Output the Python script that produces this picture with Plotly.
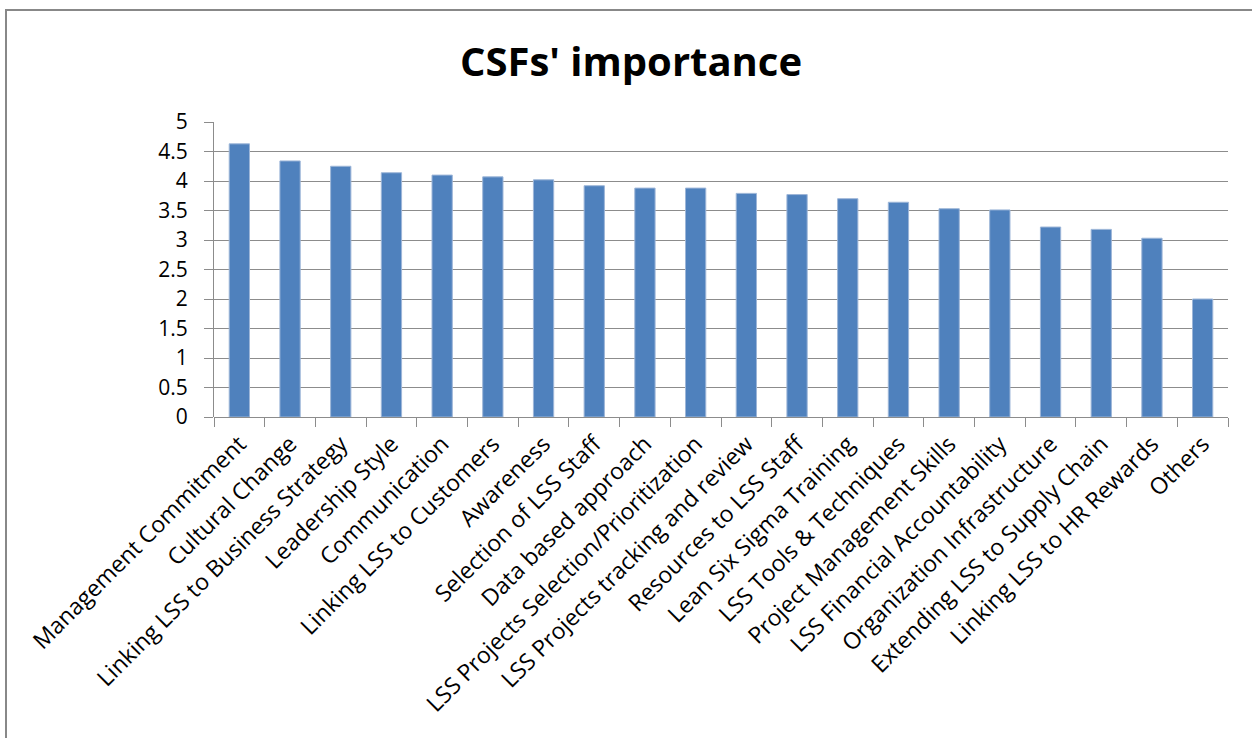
import plotly.graph_objects as go

categories = [
    "Management Commitment", "Cultural Change", "Linking LSS to Business Strategy",
    "Leadership Style", "Communication", "Linking LSS to Customers", "Awareness",
    "Selection of LSS Staff", "Data based approach", "LSS Projects Selection/Prioritization",
    "LSS Projects tracking and review", "Resources to LSS Staff", "Lean Six Sigma Training",
    "LSS Tools & Techniques", "Project Management Skills", "LSS Financial Accountability",
    "Organization Infrastructure", "Extending LSS to Supply Chain", "Linking LSS to HR Rewards",
    "Others",
]
values = [4.63, 4.34, 4.25, 4.14, 4.10, 4.07, 4.02, 3.92, 3.88, 3.88,
          3.79, 3.77, 3.70, 3.64, 3.53, 3.51, 3.22, 3.18, 3.03, 2.0]
y_ticks = [0, 0.5, 1, 1.5, 2, 2.5, 3, 3.5, 4, 4.5, 5]
y_tick_text = ["0", "0.5", "1", "1.5", "2", "2.5", "3", "3.5", "4", "4.5", "5"]
title_text = "CSFs' importance"

W, H = 1252, 738
ml, mr, mt, mb = 214, 24, 122, 321
pw, ph = W - ml - mr, H - mt - mb

def px_x(x):
    return (x - ml) / pw

def px_y(y):
    return (H - mb - y) / ph

font_family = "Open Sans"
grid_col = "#8c8c8c"

fig = go.Figure(go.Bar(
    x=categories, y=values,
    marker=dict(color="#4F81BD", line=dict(color="#9db6d8", width=1)),
))

fig.update_layout(
    width=W, height=H,
    margin=dict(l=ml, r=mr, t=mt, b=mb),
    paper_bgcolor="white", plot_bgcolor="white",
    bargap=0.6,
    showlegend=False,
    font=dict(family=font_family, color="#000000", size=18),
    title=dict(text="<b>" + title_text + "</b>", x=(631) / W, xanchor="center",
               y=1 - 62 / H, yanchor="middle",
               font=dict(family=font_family, size=40, color="#000000")),
    xaxis=dict(
        tickangle=-45, tickfont=dict(size=23, family=font_family),
        showgrid=False, showline=False, zeroline=False,
        ticks="outside", ticklen=9, tickcolor=grid_col, tickwidth=1,
        tickson="boundaries", ticklabelstandoff=8,
    ),
    yaxis=dict(
        range=[0, 5], tickvals=y_ticks, ticktext=y_tick_text,
        tickfont=dict(size=21, family=font_family),
        showgrid=True, gridcolor=grid_col, gridwidth=1,
        showline=True, linecolor=grid_col, linewidth=1,
        zeroline=True, zerolinecolor=grid_col, zerolinewidth=1,
        ticks="outside", ticklen=9, tickcolor=grid_col,
        ticklabelstandoff=12,
    ),
    shapes=[dict(
        type="rect", xref="paper", yref="paper",
        x0=px_x(6), x1=px_x(W + 20), y0=px_y(H + 20), y1=px_y(10),
        line=dict(color="#888888", width=2), fillcolor="rgba(0,0,0,0)", layer="below",
    )],
)

fig.write_html("out.html")
